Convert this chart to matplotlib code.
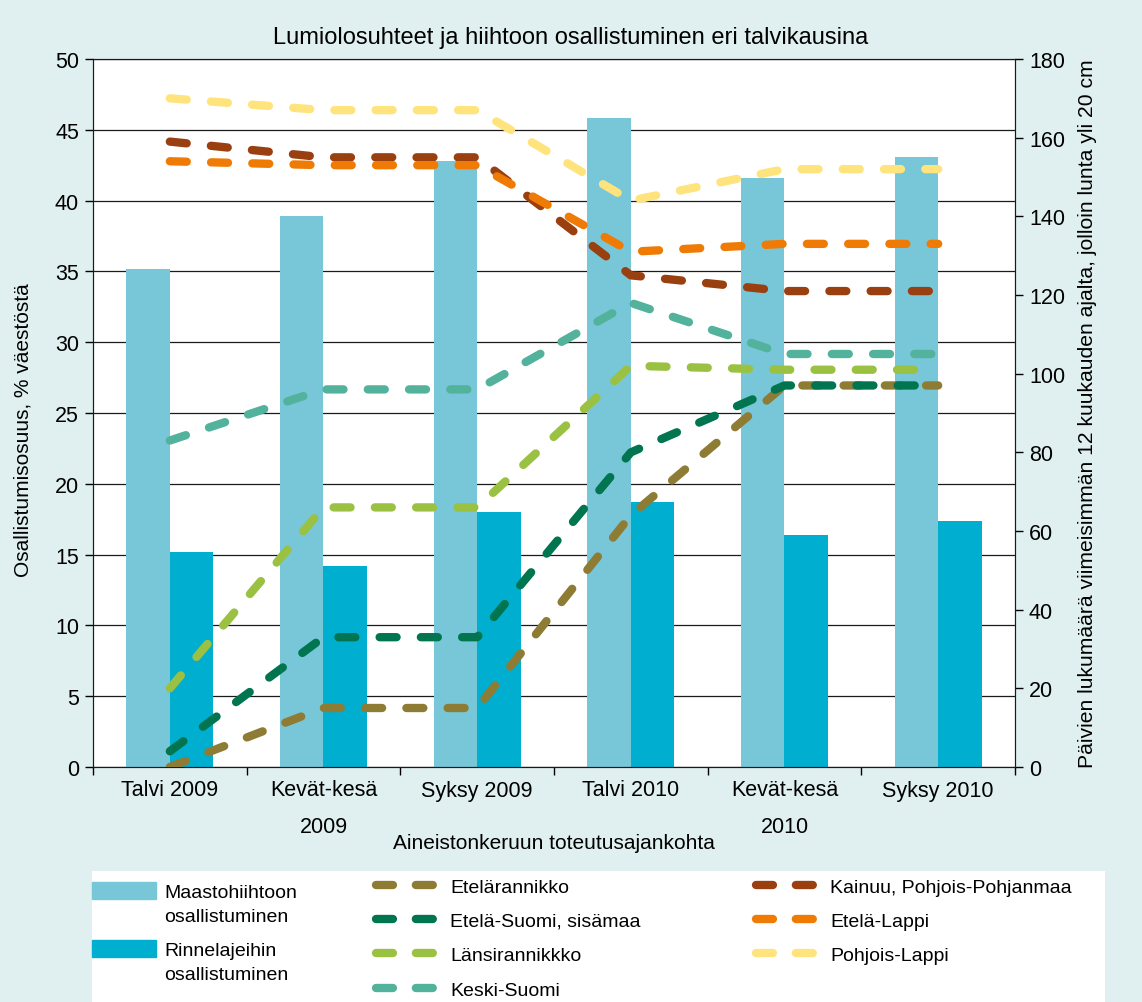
import numpy as np
import matplotlib
matplotlib.use('Agg')
import matplotlib.pyplot as plt
from matplotlib.lines import Line2D
from matplotlib.patches import Patch, Rectangle
#
plt.rcParams['font.family'] = ['Liberation Sans', 'DejaVu Sans']
plt.rcParams['lines.scale_dashes'] = False
#-------------------------------------------------------------------
# Data
#-------------------------------------------------------------------
kaudet = ['Talvi 2009', 'Kevät-kesä\n2009', 'Syksy 2009', 'Talvi 2010', 'Kevät-kesä\n2010', 'Syksy 2010']
maasto = [35.2, 38.9, 42.8, 45.8, 41.6, 43.1]
rinne = [15.2, 14.2, 18.0, 18.7, 16.4, 17.4]
#
alueet = ['Etelärannikko', 'Etelä-Suomi, sisämaa', 'Länsirannikkko', 'Keski-Suomi',
          'Kainuu, Pohjois-Pohjanmaa', 'Etelä-Lappi', 'Pohjois-Lappi']
etelarannikko = [0, 15, 15, 64, 97, 97]
etela_suomi = [4, 33, 33, 80, 97, 97]
lansirannikko = [20, 66, 66, 102, 101, 101]
keski_suomi = [83, 96, 96, 118, 105, 105]
kainuu = [159, 155, 155, 125, 121, 121]
etela_lappi = [154, 153, 153, 131, 133, 133]
pohjois_lappi = [170, 167, 167, 144, 152, 152]
paivat = [etelarannikko, etela_suomi, lansirannikko, keski_suomi, kainuu, etela_lappi, pohjois_lappi]
#
clr_bar = ['#77c7d9', '#00aed0']
clr = ['#8e7b34', '#00754f', '#9bc142', '#52b29c', '#9a3f10', '#ef7b05', '#ffe37c']
bg = '#e0f0f0'
fs = 15.5
#-------------------------------------------------------------------
W, H = 1142, 1003
fig = plt.figure(figsize=(W/100, H/100), dpi=100, facecolor=bg)
ax = fig.add_axes([93/W, 1-768/H, (1015-93)/W, (768-60)/H])
ax.set_facecolor('white')
#
x = np.arange(len(kaudet)) + 0.5
w = 0.283
ax.bar(x - w/2, maasto, w, color=clr_bar[0], zorder=2)
ax.bar(x + w/2, rinne, w, color=clr_bar[1], zorder=2)
#
ax.set_xlim(0, 6)
ax.set_ylim(0, 50)
ax.set_yticks(np.arange(0, 51, 5))
ax.set_axisbelow(True)
ax.yaxis.grid(True, color='#1a1a1a', linewidth=0.9)
ax.set_xticks(np.arange(0, 7))
ax.set_xticklabels([])
ax.set_xticks(x, minor=True)
ax.set_xticklabels(kaudet, minor=True, linespacing=1.95)
ax.tick_params(axis='x', which='major', direction='out', length=6, width=1)
ax.tick_params(axis='x', which='minor', length=0, pad=9, labelsize=fs)
ax.tick_params(axis='y', direction='out', length=6, width=1, labelsize=fs, pad=4)
for s in ax.spines.values():
        s.set_color('#1a1a1a')
ax.set_ylabel('Osallistumisosuus, % väestöstä', fontsize=15)
ax.yaxis.set_label_coords(-0.066, 0.477)
ax.set_xlabel('Aineistonkeruun toteutusajankohta', fontsize=15)
ax.xaxis.set_label_coords(0.5, -0.093)
#
#----------------------------------
ax2 = ax.twinx()
ax2.set_ylim(0, 180)
ax2.set_yticks(np.arange(0, 181, 20))
for i in range(len(paivat)):
        ax2.plot(x, paivat[i], color=clr[i], linewidth=6, dashes=(12.2, 17.5),
                 dash_capstyle='round', solid_capstyle='round', zorder=3)
ax2.tick_params(axis='y', direction='out', length=6, width=1, labelsize=fs, pad=4)
for s in ax2.spines.values():
        s.set_color('#1a1a1a')
ax2.set_ylabel('Päivien lukumäärä viimeisimmän 12 kuukauden ajalta, jolloin lunta yli 20 cm',
               fontsize=15.2, labelpad=9)
#
fig.suptitle('Lumiolosuhteet ja hiihtoon osallistuminen eri talvikausina', fontsize=17, y=1-38/H, va='center')
#-------------------------------------------------------------------
# Legend
#-------------------------------------------------------------------
fig.add_artist(Rectangle((92/W, 0), (1105-92)/W, (1003-872)/H, transform=fig.transFigure,
                         facecolor='white', edgecolor='none', zorder=0))
kw = dict(loc='upper left', frameon=False, fontsize=14, borderpad=0, borderaxespad=0)
fig.legend(handles=[Patch(color=clr_bar[0]), Patch(color='none')],
           labels=['Maastohiihtoon', 'osallistuminen'], bbox_to_anchor=(92/W, 1-883/H),
           handlelength=3.3, handleheight=1.0, handletextpad=0.4, labelspacing=0.2, **kw)
fig.legend(handles=[Patch(color=clr_bar[1]), Patch(color='none')],
           labels=['Rinnelajeihin', 'osallistuminen'], bbox_to_anchor=(92/W, 1-941/H),
           handlelength=3.3, handleheight=1.0, handletextpad=0.4, labelspacing=0.2, **kw)
h = [Line2D([], [], color=clr[i], linewidth=6, dashes=(12.2, 16.5), dash_capstyle='round') for i in range(7)]
fig.legend(handles=h[:4], labels=alueet[:4], bbox_to_anchor=(376/W, 1-879/H),
           handlelength=3.0, handletextpad=0.8, labelspacing=0.86, **kw)
fig.legend(handles=h[4:], labels=alueet[4:], bbox_to_anchor=(756/W, 1-879/H),
           handlelength=3.0, handletextpad=0.8, labelspacing=0.86, **kw)
#
plt.savefig('out.png', dpi=100, facecolor=fig.get_facecolor())
plt.close('all')
